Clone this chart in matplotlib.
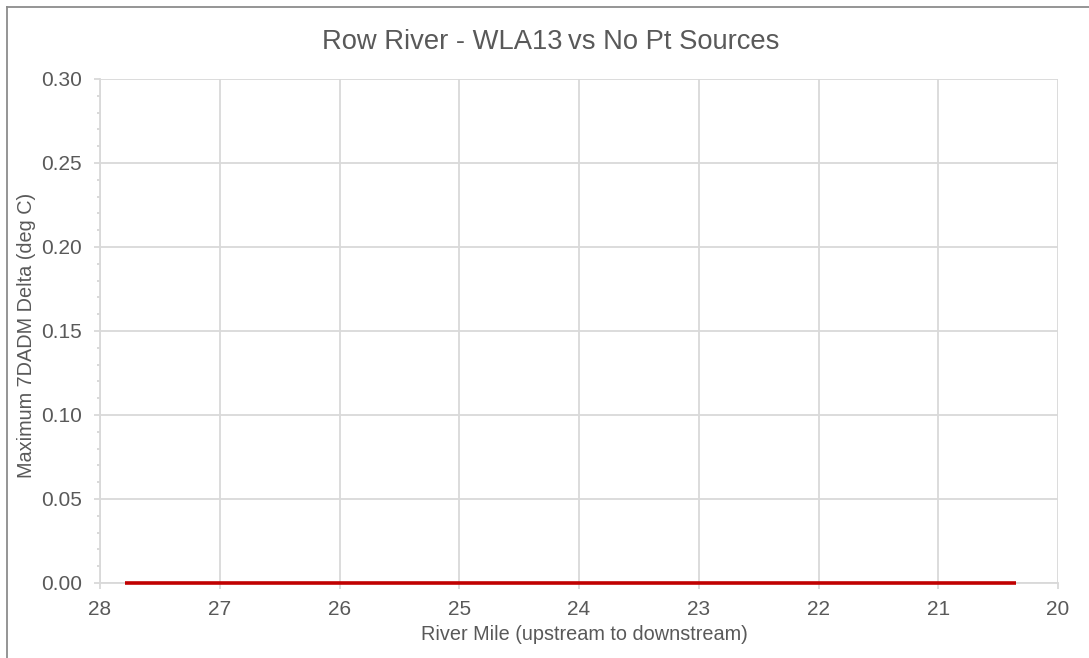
import matplotlib
matplotlib.use("Agg")
import matplotlib.pyplot as plt
from matplotlib.ticker import MultipleLocator
from matplotlib.lines import Line2D

plt.rcParams['font.family'] = ['Liberation Sans', 'DejaVu Sans']

# River mile positions and the max 7DADM temperature delta at each
river_mile = [27.79, 27.0, 26.0, 25.0, 24.0, 23.0, 22.0, 21.0, 20.35]
delta_7dadm = [0.0, 0.0, 0.0, 0.0, 0.0, 0.0, 0.0, 0.0, 0.0]

x_ticks = [28, 27, 26, 25, 24, 23, 22, 21, 20]
y_ticks = [0.00, 0.05, 0.10, 0.15, 0.20, 0.25, 0.30]

title = "Row River - WLA13\u2009vs No Pt Sources"
x_label = "River Mile (upstream to downstream)"
y_label = "Maximum 7DADM Delta (deg C)"

text_color = "#595959"
grid_color = "#d9d9d9"

W, H = 1089, 658
fig = plt.figure(figsize=(W / 100, H / 100), dpi=100)
ax = fig.add_axes([100 / W, 1 - 583 / H, 958 / W, 504 / H])

ax.plot(river_mile, delta_7dadm, color="#c00000", linewidth=2.6,
        solid_capstyle="butt", zorder=3, clip_on=False)

ax.set_xlim(28, 20)
ax.set_ylim(0, 0.30)
ax.set_xticks(x_ticks)
ax.set_xticklabels([str(v) for v in x_ticks])
ax.set_yticks(y_ticks)
ax.set_yticklabels([f"{v:.2f}" for v in y_ticks])
ax.yaxis.set_minor_locator(MultipleLocator(0.01))

ax.grid(True, which="major", color=grid_color, linewidth=1.3, zorder=0)
ax.set_axisbelow(True)
for side in ("top", "right"):
    ax.spines[side].set_visible(False)
for side in ("left", "bottom"):
    ax.spines[side].set_color(grid_color)
    ax.spines[side].set_linewidth(1.3)

ax.tick_params(axis="both", which="major", length=4, width=1.3,
               color=grid_color, labelcolor=text_color, labelsize=15)
ax.tick_params(axis="y", which="major", pad=9)
ax.tick_params(axis="x", which="major", pad=8)
ax.tick_params(axis="y", which="minor", length=2.5, width=1.1, color="#cfcfcf")

# Titles placed in figure coordinates
fig.text(551 / W, 1 - 42 / H, title, fontsize=19.7,
         color=text_color, ha="center", va="center")
fig.text(584 / W, 1 - 634 / H, x_label, fontsize=14.3,
         color=text_color, ha="center", va="center")
fig.text(27 / W, 1 - 335 / H, y_label, fontsize=14.3, color=text_color,
         ha="center", va="center", rotation=90)

# Chart frame lines along the left and top edges
fig.add_artist(Line2D([6.5 / W, 6.5 / W], [0, 1 - 7 / H],
                      transform=fig.transFigure, color="#8c8c8c", linewidth=1.3))
fig.add_artist(Line2D([6.5 / W, 1.0], [1 - 7 / H, 1 - 7 / H],
                      transform=fig.transFigure, color="#8c8c8c", linewidth=1.3))

fig.savefig("out.png", dpi=100, facecolor="white")
